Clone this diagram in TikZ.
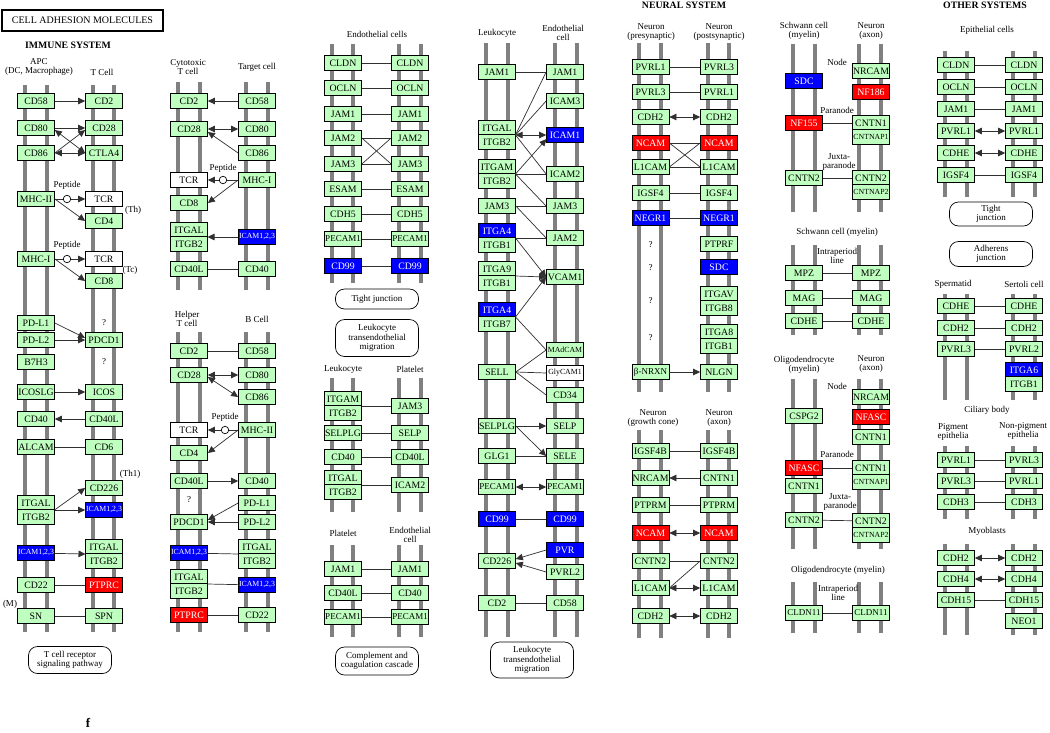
\documentclass[tikz,border=0pt]{standalone}
\usepackage{fontspec}
\setmainfont{Liberation Serif}
\usetikzlibrary{arrows.meta}
\definecolor{kgreen}{HTML}{BFFFBF}
\definecolor{kblue}{HTML}{0000FF}
\definecolor{kred}{HTML}{FF0000}
\definecolor{memgray}{HTML}{808080}
\definecolor{lnkcol}{HTML}{303030}
\newcommand\gfont{\fontsize{9.8}{9.8}\selectfont}
\newcommand\gsmall{\fontsize{9}{9}\selectfont}
\newcommand\gxsmall{\fontsize{7.8}{7.8}\selectfont}
\newcommand\lfont{\fontsize{9}{9.2}\selectfont}
\newcommand\hfont{\bfseries\fontsize{9.8}{9.8}\selectfont}
\newcommand\memlines[6]{\foreach \mx in {#1,#2,#3,#4}{\draw[mem] (\mx,#5) -- (\mx,#6);}}
\tikzset{
 gene/.style={draw=black, line width=0.7pt, fill=kgreen, minimum width=37pt, minimum height=14.5pt, inner sep=0pt, font=\gfont},
 bgene/.style={gene, fill=kblue, text=white},
 rgene/.style={gene, fill=kred, text=white},
 wgene/.style={gene, fill=white},
 sm/.style={font=\gsmall},
 xs/.style={font=\gxsmall},
 lab/.style={font=\lfont, inner sep=0pt, align=center},
 hdr/.style={font=\hfont, inner sep=0pt},
 mem/.style={draw=memgray, line width=4.5pt},
 lnk/.style={draw=lnkcol, line width=0.7pt},
 arr/.style={lnk, -{Triangle[length=7pt,width=6.5pt]}},
 darr/.style={lnk, {Triangle[length=7pt,width=6.5pt]}-{Triangle[length=7pt,width=6.5pt]}},
 pathbox/.style={draw, line width=0.7pt, rounded corners=9pt, minimum width=83pt, inner sep=1pt, align=center, font=\lfont},
 pep/.style={circle, draw, fill=white, minimum size=7.5pt, inner sep=0pt, line width=0.7pt},
}
\begin{document}
\begin{tikzpicture}[x=1pt,y=-1pt]
\useasboundingbox[fill=white] (0,0) rectangle (1050,732);
% ---------- membranes ----------
\memlines{25}{47}{93}{114}{85}{632}
\memlines{178}{200}{246}{268}{82}{290}
\memlines{178}{200}{246}{268}{332}{632}
\memlines{332}{353}{399}{421}{44}{283}
\memlines{332}{353}{399}{421}{378}{512}
\memlines{332}{353}{399}{421}{545}{637}
\memlines{486}{508}{555}{577}{43}{637}
\memlines{639}{661}{708}{729}{43}{392}
\memlines{639}{661}{708}{729}{430}{638}
\memlines{793}{815}{859}{881}{44}{212}
\memlines{793}{815}{859}{881}{245}{335}
\memlines{793}{815}{859}{881}{379}{549}
\memlines{793}{815}{859}{881}{582}{633}
\memlines{945}{967}{1013}{1035}{51}{197}
\memlines{945}{967}{1013}{1035}{294}{400}
\memlines{945}{967}{1013}{1035}{446}{519}
\memlines{945}{967}{1013}{1035}{544}{635}
% ---------- headers ----------
\node[draw, line width=1.2pt, minimum width=161pt, minimum height=21pt, inner sep=0pt, font=\fontsize{10}{10}\selectfont] (title) at (82.5,20.5) {CELL ADHESION MOLECULES};
\node[hdr] (himm) at (68,45) {IMMUNE SYSTEM};
\node[hdr] (hneu) at (684,5) {NEURAL SYSTEM};
\node[hdr] (hoth) at (985,5) {OTHER SYSTEMS};
\node[font=\bfseries\fontsize{13}{13}\selectfont, inner sep=0pt] (fl) at (88,723) {f};
% ---------- column 1 ----------
\node[lab] (c1apc) at (39,67) {APC\\(DC, Macrophage)};
\node[lab] (c1tc) at (102,72) {T Cell};
\node[gene] (c1cd58) at (36,101) {CD58};
\node[gene] (c1cd2) at (104,101) {CD2};
\node[gene] (c1cd80) at (36,128) {CD80};
\node[gene] (c1cd28) at (104,128) {CD28};
\node[gene] (c1cd86) at (36,153) {CD86};
\node[gene] (c1ctla4) at (104,153) {CTLA4};
\node[lab] (c1pep1) at (67,185) {Peptide};
\node[gene] (c1mhc2) at (36,199) {MHC-II};
\node[wgene] (c1tcr1) at (104,199) {TCR};
\node[lab] (c1th) at (133,210) {(Th)};
\node[gene] (c1cd4) at (104,221) {CD4};
\node[lab] (c1pep2) at (67,245) {Peptide};
\node[gene] (c1mhc1) at (36,259) {MHC-I};
\node[wgene] (c1tcr2) at (104,259) {TCR};
\node[lab] (c1tcl) at (130,270) {(Tc)};
\node[gene] (c1cd8) at (104,281) {CD8};
\node[gene] (c1pdl1) at (36,323) {PD-L1};
\node[lab] (c1q1) at (104,323) {?};
\node[gene] (c1pdl2) at (36,340) {PD-L2};
\node[gene] (c1pdcd1) at (104,340) {PDCD1};
\node[gene] (c1b7h3) at (36,362) {B7H3};
\node[lab] (c1q2) at (104,362) {?};
\node[gene] (c1icoslg) at (36,392) {ICOSLG};
\node[gene] (c1icos) at (104,392) {ICOS};
\node[gene] (c1cd40) at (36,419) {CD40};
\node[gene] (c1cd40l) at (104,419) {CD40L};
\node[gene] (c1alcam) at (36,447) {ALCAM};
\node[gene] (c1cd6) at (104,447) {CD6};
\node[lab] (c1th1) at (130,474) {(Th1)};
\node[gene] (c1cd226) at (104,488) {CD226};
\node[gene] (c1itgal1) at (36,503) {ITGAL};
\node[gene] (c1itgb21) at (36,517) {ITGB2};
\node[bgene,xs] (c1icam1) at (104,510) {ICAM1,2,3};
\node[bgene,xs] (c1icam2) at (36,553) {ICAM1,2,3};
\node[gene] (c1itgal2) at (104,547) {ITGAL};
\node[gene] (c1itgb22) at (104,561) {ITGB2};
\node[gene] (c1cd22) at (36,585) {CD22};
\node[rgene] (c1ptprc) at (104,585) {PTPRC};
\node[lab] (c1m) at (10,604) {(M)};
\node[gene] (c1sn) at (36,616) {SN};
\node[gene] (c1spn) at (104,616) {SPN};
\node[pathbox, minimum height=27pt] (c1path) at (70,660) {T cell receptor\\signaling pathway};
\coordinate (c1j1) at (54.5,510);
\coordinate (c1j2) at (85.5,554);
\draw[arr] (c1cd58) -- (c1cd2);
\draw[arr] (c1cd80) -- (c1cd28);
\draw[arr] (c1cd86.east) -- ([yshift=-2pt]c1cd28.west);
\draw[darr] ([yshift=-2pt]c1cd80.east) -- (c1ctla4.west);
\draw[darr] (c1cd86) -- (c1ctla4);
\draw[arr] (c1mhc2) -- (c1tcr1);
\draw[arr] (c1mhc2.east) -- (c1cd4.west);
\node[pep] (c1c1) at (67,199) {};
\draw[arr] (c1mhc1) -- (c1tcr2);
\draw[arr] (c1mhc1.east) -- (c1cd8.west);
\node[pep] (c1c2) at (67,259) {};
\draw[arr] (c1pdl1.east) -- ([yshift=2pt]c1pdcd1.west);
\draw[arr] (c1pdl2) -- (c1pdcd1);
\draw[arr] (c1icoslg) -- (c1icos);
\draw[arr] (c1cd40l) -- (c1cd40);
\draw[lnk] (c1alcam) -- (c1cd6);
\draw[arr] (c1j1) -- (c1cd226.west);
\draw[arr] (c1j1) -- (c1icam1.west);
\draw[arr] (c1icam2) -- (c1j2);
\draw[lnk] (c1cd22) -- (c1ptprc);
\draw[lnk] (c1sn) -- (c1spn);
% ---------- column 2 ----------
\node[lab] (c2cyt) at (188,67) {Cytotoxic\\T cell};
\node[lab] (c2tgt) at (257,67) {Target cell};
\node[gene] (c2cd2) at (189,101) {CD2};
\node[gene] (c2cd58) at (257,101) {CD58};
\node[gene] (c2cd28) at (189,129) {CD28};
\node[gene] (c2cd80) at (257,129) {CD80};
\node[gene] (c2cd86) at (257,153) {CD86};
\node[lab] (c2pep) at (223,168) {Peptide};
\node[wgene] (c2tcr) at (189,180) {TCR};
\node[gene] (c2mhc1) at (257,180) {MHC-I};
\node[gene] (c2cd8) at (189,203) {CD8};
\node[gene] (c2itgal) at (189,230) {ITGAL};
\node[gene] (c2itgb2) at (189,244) {ITGB2};
\node[bgene,xs] (c2icam) at (257,237) {ICAM1,2,3};
\node[gene] (c2cd40l) at (189,269) {CD40L};
\node[gene] (c2cd40) at (257,269) {CD40};
\coordinate (c2j1) at (207.5,237);
\draw[arr] (c2cd58) -- (c2cd2);
\draw[darr] (c2cd28) -- (c2cd80);
\draw[arr] (c2cd86.west) -- ([yshift=-3pt]c2cd28.east);
\draw[arr] (c2mhc1) -- (c2tcr);
\node[pep] (c2c1) at (223,180) {};
\draw[arr] (c2mhc1.west) -- (c2cd8.east);
\draw[arr] (c2icam) -- (c2j1);
\draw[lnk] (c2cd40l) -- (c2cd40);
\node[lab] (c2hlp) at (187,319) {Helper\\T cell};
\node[lab] (c2bc) at (257,319) {B Cell};
\node[gene] (c2bcd2) at (189,351) {CD2};
\node[gene] (c2bcd58) at (257,351) {CD58};
\node[gene] (c2bcd28) at (189,375) {CD28};
\node[gene] (c2bcd80) at (257,375) {CD80};
\node[gene] (c2bcd86) at (257,397) {CD86};
\node[lab] (c2bpep) at (225,417) {Peptide};
\node[wgene] (c2btcr) at (189,430) {TCR};
\node[gene] (c2bmhc2) at (257,430) {MHC-II};
\node[gene] (c2bcd4) at (189,453) {CD4};
\node[gene] (c2bcd40l) at (189,481) {CD40L};
\node[gene] (c2bcd40) at (257,481) {CD40};
\node[lab] (c2bq) at (189,500) {?};
\node[gene] (c2bpdl1) at (257,503) {PD-L1};
\node[gene] (c2bpdcd1) at (189,522) {PDCD1};
\node[gene] (c2bpdl2) at (257,522) {PD-L2};
\node[bgene,xs] (c2bicam) at (189,553) {ICAM1,2,3};
\node[gene] (c2bitgal) at (257,547) {ITGAL};
\node[gene] (c2bitgb2) at (257,561) {ITGB2};
\node[gene] (c2bitgal2) at (189,577) {ITGAL};
\node[gene] (c2bitgb22) at (189,591) {ITGB2};
\node[bgene,xs] (c2bicam2) at (257,585) {ICAM1,2,3};
\node[rgene] (c2bptprc) at (189,615) {PTPRC};
\node[gene] (c2bcd22) at (257,615) {CD22};
\coordinate (c2j2) at (238.5,554);
\coordinate (c2j3) at (207.5,584);
\draw[lnk] (c2bcd2) -- (c2bcd58);
\draw[darr] (c2bcd28) -- (c2bcd80);
\draw[darr] ([yshift=-2pt]c2bcd28.east) -- (c2bcd86.west);
\draw[arr] (c2bmhc2) -- (c2btcr);
\node[pep] (c2c2) at (225,430) {};
\draw[arr] (c2bmhc2.west) -- (c2bcd4.east);
\draw[arr] (c2bcd40l) -- (c2bcd40);
\draw[arr] (c2bpdl1.west) -- ([yshift=2pt]c2bpdcd1.east);
\draw[arr] (c2bpdl2) -- (c2bpdcd1);
\draw[lnk] (c2bicam) -- (c2j2);
\draw[lnk] (c2j3) -- (c2bicam2);
\draw[lnk] (c2bptprc) -- (c2bcd22);
% ---------- column 3 ----------
\node[lab] (c3endo) at (377,34) {Endothelial cells};
\node[gene] (e1cldn) at (343,63) {CLDN};
\node[gene] (e2cldn) at (410,63) {CLDN};
\node[gene] (e1ocln) at (343,88) {OCLN};
\node[gene] (e2ocln) at (410,88) {OCLN};
\node[gene] (e1jam1) at (343,114) {JAM1};
\node[gene] (e2jam1) at (410,114) {JAM1};
\node[gene] (e1jam2) at (343,138) {JAM2};
\node[gene] (e2jam2) at (410,138) {JAM2};
\node[gene] (e1jam3) at (343,164) {JAM3};
\node[gene] (e2jam3) at (410,164) {JAM3};
\node[gene] (e1esam) at (343,189) {ESAM};
\node[gene] (e2esam) at (410,189) {ESAM};
\node[gene] (e1cdh5) at (343,214) {CDH5};
\node[gene] (e2cdh5) at (410,214) {CDH5};
\node[gene,sm] (e1pecam) at (343,239) {PECAM1};
\node[gene,sm] (e2pecam) at (410,239) {PECAM1};
\node[bgene] (e1cd99) at (343,266) {CD99};
\node[bgene] (e2cd99) at (410,266) {CD99};
\draw[lnk] (e1cldn) -- (e2cldn);
\draw[lnk] (e1ocln) -- (e2ocln);
\draw[lnk] (e1jam1) -- (e2jam1);
\draw[lnk] (e1jam2) -- (e2jam2);
\draw[lnk] (e1jam3) -- (e2jam3);
\draw[lnk] (e1jam2.east) -- (e2jam3.west);
\draw[lnk] (e1jam3.east) -- (e2jam2.west);
\draw[lnk] (e1esam) -- (e2esam);
\draw[lnk] (e1cdh5) -- (e2cdh5);
\draw[lnk] (e1pecam) -- (e2pecam);
\draw[lnk] (e1cd99) -- (e2cd99);
\node[pathbox, minimum height=20pt] (c3tj) at (377,299) {Tight junction};
\node[pathbox, minimum height=37pt] (c3ltm) at (377,338) {Leukocyte\\transendothelial\\migration};
\node[lab] (c3leu) at (343,369) {Leukocyte};
\node[lab] (c3pla) at (410,369) {Platelet};
\node[gene] (f1itgam) at (343,399) {ITGAM};
\node[gene] (f1itgb2) at (343,413) {ITGB2};
\node[gene] (f2jam3) at (410,406) {JAM3};
\node[gene] (f1selplg) at (343,433) {SELPLG};
\node[gene] (f2selp) at (410,433) {SELP};
\node[gene] (f1cd40) at (343,457) {CD40};
\node[gene] (f2cd40l) at (410,457) {CD40L};
\node[gene] (f1itgal) at (343,478) {ITGAL};
\node[gene] (f1itgb2b) at (343,492) {ITGB2};
\node[gene] (f2icam2) at (410,485) {ICAM2};
\coordinate (f1j1) at (361.5,406);
\coordinate (f1j2) at (361.5,485);
\draw[lnk] (f1j1) -- (f2jam3);
\draw[lnk] (f1selplg) -- (f2selp);
\draw[lnk] (f1cd40) -- (f2cd40l);
\draw[lnk] (f1j2) -- (f2icam2);
\node[lab] (c3pla2) at (343,533) {Platelet};
\node[lab] (c3endo2) at (410,535) {Endothelial\\cell};
\node[gene] (g1jam1) at (343,569) {JAM1};
\node[gene] (g2jam1) at (410,569) {JAM1};
\node[gene] (g1cd40l) at (343,593) {CD40L};
\node[gene] (g2cd40) at (410,593) {CD40};
\node[gene,sm] (g1pecam) at (343,617) {PECAM1};
\node[gene,sm] (g2pecam) at (410,617) {PECAM1};
\draw[lnk] (g1jam1) -- (g2jam1);
\draw[lnk] (g1cd40l) -- (g2cd40);
\draw[lnk] (g1pecam) -- (g2pecam);
\node[pathbox, minimum height=28pt] (c3cc) at (377,661) {Complement and\\coagulation cascade};
% ---------- column 4 ----------
\node[lab] (c4leu) at (497,33) {Leukocyte};
\node[lab] (c4endo) at (563,33) {Endothelial\\cell};
\node[gene] (d1jam1) at (497,72) {JAM1};
\node[gene] (d2jam1) at (565,72) {JAM1};
\node[gene] (d2icam3) at (565,101) {ICAM3};
\node[gene] (d1itgal) at (497,128) {ITGAL};
\node[gene] (d1itgb2a) at (497,142) {ITGB2};
\node[bgene] (d2icam1) at (565,135) {ICAM1};
\node[gene] (d1itgam) at (497,167) {ITGAM};
\node[gene] (d1itgb2b) at (497,181) {ITGB2};
\node[gene] (d2icam2) at (565,174) {ICAM2};
\node[gene] (d1jam3) at (497,206) {JAM3};
\node[gene] (d2jam3) at (565,206) {JAM3};
\node[bgene] (d1itga4a) at (497,231) {ITGA4};
\node[gene] (d1itgb1a) at (497,245) {ITGB1};
\node[gene] (d2jam2) at (565,238) {JAM2};
\node[gene] (d1itga9) at (497,269) {ITGA9};
\node[gene] (d1itgb1b) at (497,283) {ITGB1};
\node[gene] (d2vcam1) at (565,277) {VCAM1};
\node[bgene] (d1itga4b) at (497,310) {ITGA4};
\node[gene] (d1itgb7) at (497,324) {ITGB7};
\node[gene,xs] (d2madcam) at (565,350) {MAdCAM};
\node[gene] (d1sell) at (497,372) {SELL};
\node[wgene,xs] (d2glycam) at (565,373) {GlyCAM1};
\node[gene] (d2cd34) at (565,395) {CD34};
\node[gene] (d1selplg) at (497,426) {SELPLG};
\node[gene] (d2selp) at (565,426) {SELP};
\node[gene] (d1glg1) at (497,456) {GLG1};
\node[gene] (d2sele) at (565,456) {SELE};
\node[gene,sm] (d1pecam1) at (497,487) {PECAM1};
\node[gene,sm] (d2pecam1) at (565,487) {PECAM1};
\node[bgene] (d1cd99) at (497,519) {CD99};
\node[bgene] (d2cd99) at (565,519) {CD99};
\node[bgene] (d2pvr) at (565,550) {PVR};
\node[gene] (d1cd226) at (497,561) {CD226};
\node[gene] (d2pvrl2) at (565,572) {PVRL2};
\node[gene] (d1cd2) at (497,603) {CD2};
\node[gene] (d2cd58) at (565,603) {CD58};
\node[pathbox, minimum height=36pt] (d3path) at (532,660) {Leukocyte\\transendothelial\\migration};
\coordinate (dj1) at (515.5,135);
\coordinate (dj2) at (515.5,174);
\coordinate (dj3) at (515.5,238);
\coordinate (dj4) at (515.5,276);
\coordinate (dj5) at (515.5,317);
\coordinate (di1) at (546.5,139);
\draw[lnk] (d1jam1) -- (d2jam1);
\draw[lnk] (dj1) -- (d2jam1.west);
\draw[lnk] (dj1) -- (d2icam3.west);
\draw[darr] (dj1) -- (d2icam1.west);
\draw[lnk] (dj1) -- (d2icam2.west);
\draw[arr] (dj2) -- (di1);
\draw[lnk] (dj2) -- (d2icam2.west);
\draw[lnk] (dj2) -- (d2jam3.west);
\draw[lnk] (d1jam3) -- (d2jam3);
\draw[lnk] (d1jam3.east) -- (d2jam2.west);
\draw[lnk] (dj3) -- (d2jam2.west);
\draw[arr] (dj3) -- (d2vcam1.west);
\draw[arr] (dj4) -- (d2vcam1.west);
\draw[arr] (dj5) -- (d2vcam1.west);
\draw[lnk] (dj5) -- (d2madcam.west);
\draw[lnk] (d1sell.east) -- (d2madcam.west);
\draw[lnk] (d1sell.east) -- (d2glycam.west);
\draw[lnk] (d1sell.east) -- (d2cd34.west);
\draw[arr] (d1selplg) -- (d2selp);
\draw[arr] (d1selplg.east) -- (d2sele.west);
\draw[lnk] (d1glg1) -- (d2sele);
\draw[darr] (d1pecam1) -- (d2pecam1);
\draw[lnk] (d1cd99) -- (d2cd99);
\draw[arr] (d2pvr.west) -- ([yshift=2pt]d1cd226.east);
\draw[arr] (d2pvrl2.west) -- ([yshift=-2pt]d1cd226.east);
\draw[lnk] (d1cd2) -- (d2cd58);
% ---------- column 5 ----------
\node[lab] (n1lab) at (651,32) {Neuron\\(presynaptic)};
\node[lab] (n2lab) at (719,32) {Neuron\\(postsynaptic)};
\node[gene] (n1pvrl1) at (650.5,67) {PVRL1};
\node[gene] (n2pvrl3) at (719,67) {PVRL3};
\node[gene] (n1pvrl3) at (650.5,92) {PVRL3};
\node[gene] (n2pvrl1) at (719,92) {PVRL1};
\node[gene] (n1cdh2) at (650.5,117) {CDH2};
\node[gene] (n2cdh2) at (719,117) {CDH2};
\node[rgene] (n1ncam) at (650.5,143) {NCAM};
\node[rgene] (n2ncam) at (719,143) {NCAM};
\node[gene] (n1l1cam) at (650.5,167) {L1CAM};
\node[gene] (n2l1cam) at (719,167) {L1CAM};
\node[gene] (n1igsf4) at (650.5,193) {IGSF4};
\node[gene] (n2igsf4) at (719,193) {IGSF4};
\node[bgene] (n1negr1) at (650.5,218) {NEGR1};
\node[bgene] (n2negr1) at (719,218) {NEGR1};
\node[lab] (n1q1) at (650.5,245) {?};
\node[gene] (n2ptprf) at (719,244) {PTPRF};
\node[lab] (n1q2) at (650.5,268) {?};
\node[bgene] (n2sdc) at (719,267) {SDC};
\node[lab] (n1q3) at (650.5,301) {?};
\node[gene] (n2itgav) at (719,294) {ITGAV};
\node[gene] (n2itgb8) at (719,308) {ITGB8};
\node[lab] (n1q4) at (650.5,338) {?};
\node[gene] (n2itga8) at (719,332) {ITGA8};
\node[gene] (n2itgb1) at (719,346) {ITGB1};
\node[gene,sm] (n1nrxn) at (650.5,372) {β-NRXN};
\node[gene] (n2nlgn) at (719,372) {NLGN};
\draw[lnk] (n1pvrl1) -- (n2pvrl3);
\draw[lnk] (n1pvrl3) -- (n2pvrl1);
\draw[darr] (n1cdh2) -- (n2cdh2);
\draw[lnk] (n1ncam) -- (n2ncam);
\draw[lnk] (n1l1cam) -- (n2l1cam);
\draw[lnk] (n1ncam.east) -- (n2l1cam.west);
\draw[lnk] (n1l1cam.east) -- (n2ncam.west);
\draw[lnk] (n1igsf4) -- (n2igsf4);
\draw[lnk] (n1negr1) -- (n2negr1);
\draw[arr] (n1nrxn) -- (n2nlgn);
\node[lab] (m1lab) at (653,418) {Neuron\\(growth cone)};
\node[lab] (m2lab) at (719,418) {Neuron\\(axon)};
\node[gene] (m1igsf4b) at (650.5,451) {IGSF4B};
\node[gene] (m2igsf4b) at (719,451) {IGSF4B};
\node[gene] (m1nrcam) at (650.5,478) {NRCAM};
\node[gene] (m2cntn1) at (719,478) {CNTN1};
\node[gene] (m1ptprm) at (650.5,505) {PTPRM};
\node[gene] (m2ptprm) at (719,505) {PTPRM};
\node[rgene] (m1ncam) at (650.5,533) {NCAM};
\node[rgene] (m2ncam) at (719,533) {NCAM};
\node[gene] (m1cntn2) at (650.5,561) {CNTN2};
\node[gene] (m2cntn2) at (719,561) {CNTN2};
\node[gene] (m1l1cam) at (650.5,588) {L1CAM};
\node[gene] (m2l1cam) at (719,588) {L1CAM};
\node[gene] (m1cdh2) at (650.5,616) {CDH2};
\node[gene] (m2cdh2) at (719,616) {CDH2};
\draw[lnk] (m1igsf4b) -- (m2igsf4b);
\draw[arr] (m2cntn1) -- (m1nrcam);
\draw[lnk] (m1ptprm) -- (m2ptprm);
\draw[darr] (m1ncam) -- (m2ncam);
\draw[lnk] (m1cntn2) -- (m2cntn2);
\draw[darr] (m1l1cam) -- (m2l1cam);
\draw[lnk] (m2cntn2.west) -- (m1l1cam.east);
\draw[darr] (m1cdh2) -- (m2cdh2);
% ---------- column 6 ----------
\node[lab] (o1lab) at (804,31) {Schwann cell\\(myelin)};
\node[lab] (o2lab) at (871,31) {Neuron\\(axon)};
\node[lab] (o3node) at (837,62) {Node};
\node[gene] (o2nrcam) at (871,71) {NRCAM};
\node[bgene] (o1sdc) at (804,81) {SDC};
\node[rgene] (o2nf186) at (871,92) {NF186};
\node[lab] (o3para) at (837,110) {Paranode};
\node[rgene] (o1nf155) at (804,123) {NF155};
\node[gene] (o2cntn1) at (871,123) {CNTN1};
\node[gene,xs] (o2cntnap1) at (871,137) {CNTNAP1};
\node[lab] (o3juxta) at (839,162) {Juxta-\\paranode};
\node[gene] (o1cntn2) at (804,178) {CNTN2};
\node[gene] (o2cntn2) at (871,178) {CNTN2};
\node[gene,xs] (o2cntnap2) at (871,192) {CNTNAP2};
\draw[lnk] (o1nf155) -- (o2cntn1);
\draw[lnk] (o1cntn2) -- (o2cntn2);
\node[lab] (p3lab) at (837,232) {Schwann cell (myelin)};
\node[lab] (p3ip) at (837,256) {Intraperiod\\line};
\node[gene] (p1mpz) at (804,273) {MPZ};
\node[gene] (p2mpz) at (871,273) {MPZ};
\node[gene] (p1mag) at (804,298) {MAG};
\node[gene] (p2mag) at (871,298) {MAG};
\node[gene] (p1cdhe) at (804,321) {CDHE};
\node[gene] (p2cdhe) at (871,321) {CDHE};
\draw[lnk] (p1mpz) -- (p2mpz);
\draw[lnk] (p1mag) -- (p2mag);
\draw[lnk] (p1cdhe) -- (p2cdhe);
\node[lab] (q1lab) at (804,365) {Oligodendrocyte\\(myelin)};
\node[lab] (q2lab) at (871,364) {Neuron\\(axon)};
\node[lab] (q3node) at (837,386) {Node};
\node[gene] (q2nrcam) at (871,397) {NRCAM};
\node[gene] (q1cspg2) at (804,416) {CSPG2};
\node[rgene] (q2nfasc) at (871,417) {NFASC};
\node[gene] (q2cntn1) at (871,437) {CNTN1};
\node[lab] (q3para) at (837,454) {Paranode};
\node[rgene] (q1nfasc) at (804,468) {NFASC};
\node[gene] (q2cntn1b) at (871,468) {CNTN1};
\node[gene,xs] (q2cntnap1) at (871,482) {CNTNAP1};
\node[gene] (q1cntn1) at (804,486) {CNTN1};
\node[lab] (q3juxta) at (840,502) {Juxta-\\paranode};
\node[gene] (q1cntn2) at (804,520) {CNTN2};
\node[gene] (q2cntn2) at (871,521) {CNTN2};
\node[gene,xs] (q2cntnap2) at (871,535) {CNTNAP2};
\draw[lnk] (q1nfasc) -- (q2cntn1b);
\draw[lnk] (q1cntn2) -- (q2cntn2);
\node[lab] (r3lab) at (838,570) {Oligodendrocyte (myelin)};
\node[lab] (r3ip) at (838,593) {Intraperiod\\line};
\node[gene,sm] (r1cldn11) at (804,613) {CLDN11};
\node[gene,sm] (r2cldn11) at (871,613) {CLDN11};
\draw[lnk] (r1cldn11) -- (r2cldn11);
% ---------- column 7 ----------
\node[lab] (s3lab) at (987,30) {Epithelial cells};
\node[gene] (s1cldn) at (956,65) {CLDN};
\node[gene] (s2cldn) at (1024,65) {CLDN};
\node[gene] (s1ocln) at (956,87) {OCLN};
\node[gene] (s2ocln) at (1024,87) {OCLN};
\node[gene] (s1jam1) at (956,109) {JAM1};
\node[gene] (s2jam1) at (1024,109) {JAM1};
\node[gene] (s1pvrl1) at (956,131) {PVRL1};
\node[gene] (s2pvrl1) at (1024,131) {PVRL1};
\node[gene] (s1cdhe) at (956,153) {CDHE};
\node[gene] (s2cdhe) at (1024,153) {CDHE};
\node[gene] (s1igsf4) at (956,175) {IGSF4};
\node[gene] (s2igsf4) at (1024,175) {IGSF4};
\draw[lnk] (s1cldn) -- (s2cldn);
\draw[lnk] (s1ocln) -- (s2ocln);
\draw[lnk] (s1jam1) -- (s2jam1);
\draw[darr] (s1pvrl1) -- (s2pvrl1);
\draw[darr] (s1cdhe) -- (s2cdhe);
\draw[lnk] (s1igsf4) -- (s2igsf4);
\node[pathbox, minimum height=24pt] (s3tj) at (991,214) {Tight\\junction};
\node[pathbox, minimum height=25pt] (s3aj) at (991,254) {Adherens\\junction};
\node[lab] (t1lab) at (953,284) {Spermatid};
\node[lab] (t2lab) at (1024,284) {Sertoli cell};
\node[gene] (t1cdhe) at (956,306) {CDHE};
\node[gene] (t2cdhe) at (1024,306) {CDHE};
\node[gene] (t1cdh2) at (956,328) {CDH2};
\node[gene] (t2cdh2) at (1024,328) {CDH2};
\node[gene] (t1pvrl3) at (956,349) {PVRL3};
\node[gene] (t2pvrl2) at (1024,349) {PVRL2};
\node[bgene] (t2itga6) at (1024,370) {ITGA6};
\node[gene] (t2itgb1) at (1024,384) {ITGB1};
\draw[lnk] (t1cdhe) -- (t2cdhe);
\draw[lnk] (t1cdh2) -- (t2cdh2);
\draw[lnk] (t1pvrl3) -- (t2pvrl2);
\node[lab] (u3lab) at (987,410) {Ciliary body};
\node[lab] (u1lab) at (953,432) {Pigment\\epithelia};
\node[lab] (u2lab) at (1023,431) {Non-pigment\\epithelia};
\node[gene] (u1pvrl1) at (956,460) {PVRL1};
\node[gene] (u2pvrl3) at (1024,460) {PVRL3};
\node[gene] (u1pvrl3) at (956,481) {PVRL3};
\node[gene] (u2pvrl1) at (1024,481) {PVRL1};
\node[gene] (u1cdh3) at (956,502) {CDH3};
\node[gene] (u2cdh3) at (1024,502) {CDH3};
\draw[lnk] (u1pvrl1) -- (u2pvrl3);
\draw[lnk] (u1pvrl3) -- (u2pvrl1);
\draw[lnk] (u1cdh3) -- (u2cdh3);
\node[lab] (v3lab) at (987,531) {Myoblasts};
\node[gene] (v1cdh2) at (956,558) {CDH2};
\node[gene] (v2cdh2) at (1024,558) {CDH2};
\node[gene] (v1cdh4) at (956,579) {CDH4};
\node[gene] (v2cdh4) at (1024,579) {CDH4};
\node[gene] (v1cdh15) at (956,600) {CDH15};
\node[gene] (v2cdh15) at (1024,600) {CDH15};
\node[gene] (v2neo1) at (1024,621) {NEO1};
\draw[darr] (v1cdh2) -- (v2cdh2);
\draw[darr] (v1cdh4) -- (v2cdh4);
\draw[lnk] (v1cdh15) -- (v2cdh15);
\end{tikzpicture}
\end{document}
